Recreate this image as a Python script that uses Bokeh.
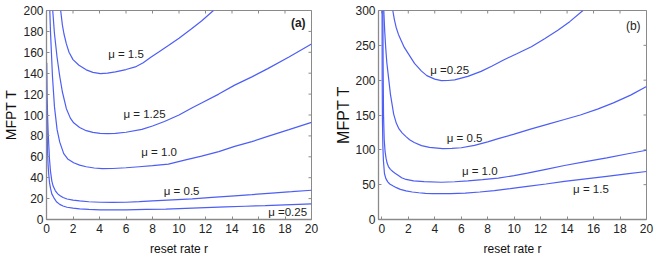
import math
from bokeh.plotting import figure
from bokeh.models import Range1d, FixedTicker, Label
from bokeh.layouts import row
from bokeh.embed import file_html
from bokeh.resources import INLINE

# ---------------- data: panel (a) ----------------
a_x_ticks = [0, 2, 4, 6, 8, 10, 12, 14, 16, 18, 20]
a_y_ticks = [0, 20, 40, 60, 80, 100, 120, 140, 160, 180, 200]

a_r_mu150 = [1.07, 1.2, 1.32, 1.5, 1.7, 2.0, 2.45, 3.0, 3.5, 4.07, 4.6, 5.2, 6.0, 6.7, 7.3,
             7.9, 8.5, 9.2, 10.0, 10.9, 11.7, 12.6]
a_T_mu150 = [200, 186, 177.5, 168, 160, 153, 147.6, 143.2, 140.8, 139.6, 140, 141.2, 143.5,
             146, 150, 155.5, 160.5, 166.5, 173.5, 182, 190, 200]

a_r_mu125 = [0.47, 0.6, 0.8, 1.0, 1.2, 1.5, 1.8, 2.05, 2.5, 3.0, 3.5, 4.05, 4.6, 5.2, 6.0,
             7.2, 8.0, 8.9, 10.0, 11.0, 11.7, 13.0, 14.2, 15.5, 16.7, 18.3, 20]
a_T_mu125 = [200, 178, 155, 137, 122, 106, 97, 92.5, 88, 85, 83.3, 82.5, 82.2, 82.4, 83.5,
             86.2, 89.5, 93.8, 100, 107, 111.5, 120, 128.6, 136.5, 144.4, 155.5, 168]

a_r_mu100 = [0.25, 0.3, 0.37, 0.45, 0.6, 0.8, 1.0, 1.3, 1.6, 2.05, 2.5, 3.0, 3.6, 4.2, 5.0,
             6.0, 7.0, 8.0, 9.2, 10.5, 11.7, 13.0, 14.2, 15.5, 16.7, 18.3, 20]
a_T_mu100 = [200, 180, 160, 137, 108, 86, 74, 63, 58, 54.3, 52, 50.5, 49.3, 48.7, 48.8,
             49.5, 50.5, 51.5, 53, 57, 60.7, 65, 70, 74.5, 79.6, 86, 92.9]

a_r_mu050 = [0.02, 0.05, 0.08, 0.12, 0.17, 0.23, 0.3, 0.4, 0.5, 0.67, 0.85, 1.0, 1.25, 1.55,
             2.0, 2.5, 3.2, 4.05, 5.0, 6.0, 7.0, 8.0, 9.5, 11.0, 12.5, 14.2, 15.5, 17.0, 18.5, 20]
a_T_mu050 = [150, 118, 100, 85, 71.7, 57, 46.4, 37, 32, 27.5, 24.5, 23, 21, 19.6,
             18.5, 17.8, 17, 16.5, 16.3, 16.5, 17.1, 17.8, 18.8, 19.8, 21.2, 22.7, 23.8, 25.3, 26.6, 28]

a_r_mu025 = [0.03, 0.05, 0.08, 0.12, 0.17, 0.23, 0.3, 0.4, 0.55, 0.75, 1.0, 1.25, 1.55, 2.0,
             2.5, 3.2, 4.05, 5.0, 6.0, 7.5, 9.0, 10.5, 12.0, 13.5, 15.0, 16.5, 18.0, 20]
a_T_mu025 = [110, 85, 65, 52, 43, 35, 30, 24.5, 21, 17, 14.5, 12.9, 11.7, 10.8,
             10.2, 9.6, 9.2, 9.2, 9.3, 9.6, 9.9, 10.6, 11.3, 12.0, 12.7, 13.3, 14.0, 14.9]

a_labels = ["\u03bc = 1.5", "\u03bc = 1.25", "\u03bc = 1.0", "\u03bc = 0.5", "\u03bc =0.25"]
a_label_r = [6.0, 7.4, 8.5, 10.2, 18.2]
a_label_T = [158, 101, 65, 27.5, 7.6]

# ---------------- data: panel (b) ----------------
b_x_ticks = [0, 2, 4, 6, 8, 10, 12, 14, 16, 18, 20]
b_y_ticks = [0, 50, 100, 150, 200, 250, 300]

b_r_mu025 = [0.83, 0.95, 1.08, 1.25, 1.46, 1.7, 2.0, 2.47, 3.0, 3.4, 4.0, 4.5, 5.0, 5.5, 6.5,
             7.5, 8.3, 9.2, 10.2, 11.3, 12.3, 13.3, 14.2, 15.2]
b_T_mu025 = [300, 287, 276, 266, 257, 247, 238, 224, 213, 206.5, 201.5, 199.4, 199.5, 200.5,
             205.5, 212.6, 220, 229, 238, 248, 259.5, 271.6, 284, 300]

b_r_mu050 = [0.15, 0.22, 0.3, 0.38, 0.5, 0.65, 0.9, 1.1, 1.3, 1.55, 1.83, 2.1, 2.45, 3.0,
             3.6, 4.6, 5.3, 6.0, 7.0, 8.0, 8.8, 10.0, 11.3, 12.5, 13.8, 15.0, 16.3, 17.5, 18.8, 20]
b_T_mu050 = [300, 270, 245, 225, 205, 180, 151, 138, 130, 124, 119, 114.5, 110.5, 106,
             103.5, 101.8, 102, 103, 106.5, 111.5, 116, 122.5, 130, 136.5, 143.5, 150, 158.4,
             167.4, 178.5, 191]

b_r_mu100 = [0.08, 0.1, 0.13, 0.18, 0.25, 0.32, 0.4, 0.5, 0.65, 0.83, 1.0, 1.2, 1.5, 1.83,
             2.4, 3.2, 4.5, 5.5, 6.5, 7.6, 8.8, 10.0, 11.0, 12.4, 13.8, 15.5, 17.0, 18.5, 20]
b_T_mu100 = [300, 220, 150, 115, 97, 88, 81, 76, 72, 69, 66.5, 64, 60, 57.5,
             55.5, 54.5, 53.5, 54.2, 55.5, 57.3, 59.4, 63, 66.5, 72, 77.5, 83.5, 88.5, 94, 99.4]

b_r_mu150 = [0.02, 0.03, 0.05, 0.08, 0.12, 0.2, 0.3, 0.45, 0.6, 0.83, 1.1, 1.4, 1.83, 2.3,
             2.8, 3.3, 3.85, 4.5, 5.2, 6.3, 7.4, 8.5, 9.7, 11.0, 12.4, 13.8, 15.4, 17.0, 18.5, 20]
b_T_mu150 = [300, 200, 140, 105, 85, 66, 59, 54, 51, 48.5, 45.7, 43.3, 41, 39.5,
             38.4, 37.6, 37.2, 37, 37.1, 38, 39.5, 41.5, 44.3, 47.5, 51, 54.7, 58.4, 62, 65.5, 68.9]

b_labels = ["\u03bc =0.25", "\u03bc = 0.5", "\u03bc = 1.0", "\u03bc = 1.5"]
b_label_r = [5.13, 6.26, 7.4, 15.8]
b_label_T = [215, 117, 69, 43.8]

LINE_COLOR = "#4d5ef5"
AXIS_COLOR = "#8a8a8a"
TEXT_COLOR = "#222222"
FONT = "Liberation Sans"


def make_panel(width, height, b_left, b_right, b_top, b_bottom, xr, yr, xticks, yticks,
               curves, labels, lab_r, lab_T, tag, tag_pos, tag_bold, ylab_size, ylab_standoff):
    p = figure(width=width, height=height, output_backend="svg", toolbar_location=None,
               x_range=Range1d(*xr), y_range=Range1d(*yr),
               min_border_left=b_left, min_border_right=b_right,
               min_border_top=b_top, min_border_bottom=b_bottom)
    p.outline_line_color = AXIS_COLOR
    p.outline_line_width = 1
    p.grid.visible = False
    for ax in (p.xaxis[0], p.yaxis[0]):
        ax.axis_line_color = AXIS_COLOR
        ax.axis_line_width = 1.3
        ax.major_tick_line_color = AXIS_COLOR
        ax.minor_tick_line_color = None
        ax.major_label_text_font = FONT
        ax.major_label_text_font_size = "12px"
        ax.major_label_text_color = TEXT_COLOR
        ax.axis_label_text_font = FONT
        ax.axis_label_text_font_style = "normal"
        ax.axis_label_text_color = "#111111"
    p.xaxis[0].ticker = FixedTicker(ticks=xticks)
    p.yaxis[0].ticker = FixedTicker(ticks=yticks)
    p.xaxis[0].major_tick_in = 3
    p.xaxis[0].major_tick_out = 0
    p.xaxis[0].major_label_standoff = 4
    p.xaxis[0].axis_label = "reset rate r"
    p.xaxis[0].axis_label_text_font_size = "12px"
    p.xaxis[0].axis_label_standoff = 6
    p.yaxis[0].major_tick_in = 3
    p.yaxis[0].major_tick_out = 0
    p.yaxis[0].major_label_standoff = 3
    p.yaxis[0].axis_label = "MFPT T"
    p.yaxis[0].axis_label_text_font_size = ylab_size
    p.yaxis[0].axis_label_standoff = ylab_standoff

    # mirror ticks on the top and right edges of the box (half clipped by the frame)
    p.scatter(x=xticks, y=[yr[1]] * len(xticks), marker="dash", size=6, angle=math.pi / 2,
              line_color=AXIS_COLOR, line_width=1)
    p.scatter(x=[xr[1]] * len(yticks), y=yticks, marker="dash", size=6,
              line_color=AXIS_COLOR, line_width=1)

    for rr, tt in curves:
        p.line(rr, tt, line_color=LINE_COLOR, line_width=1.2)

    for txt, lx, ly in zip(labels, lab_r, lab_T):
        p.add_layout(Label(x=lx, y=ly, text=txt, text_align="center", text_baseline="middle",
                           text_font=FONT, text_font_size="11.5px", text_color=TEXT_COLOR))
    p.add_layout(Label(x=tag_pos[0], y=tag_pos[1], text=tag, text_align="center",
                       text_baseline="middle", text_font=FONT, text_font_size="12px",
                       text_font_style="bold" if tag_bold else "normal", text_color=TEXT_COLOR))
    return p


pa = make_panel(322, 259, 44, 11, 9, 40, (0, 20), (0, 200), a_x_ticks, a_y_ticks,
                [(a_r_mu150, a_T_mu150), (a_r_mu125, a_T_mu125), (a_r_mu100, a_T_mu100),
                 (a_r_mu050, a_T_mu050), (a_r_mu025, a_T_mu025)],
                a_labels, a_label_r, a_label_T, "(a)", (19.0, 188), True, "14px", 1)

pb = make_panel(332, 259, 56, 8, 10, 37, (-0.25, 20), (0, 300), b_x_ticks, b_y_ticks,
                [(b_r_mu025, b_T_mu025), (b_r_mu050, b_T_mu050), (b_r_mu100, b_T_mu100),
                 (b_r_mu150, b_T_mu150)],
                b_labels, b_label_r, b_label_T, "(b)", (19.0, 278), False, "16px", 0)

layout = row(pa, pb)
open("out.html", "w").write(file_html(layout, INLINE))
